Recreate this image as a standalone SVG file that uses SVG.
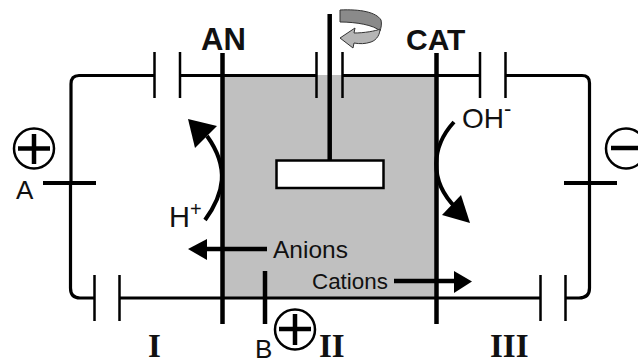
<svg xmlns="http://www.w3.org/2000/svg" width="638" height="364" viewBox="0 0 638 364">
<style>
.w{fill:none;stroke:#000;stroke-width:3.200}
.p{fill:none;stroke:#000;stroke-width:2.500}
.e{fill:none;stroke:#000;stroke-width:4.500}
.t{fill:none;stroke:#000;stroke-width:4}
.c{fill:none;stroke:#000;stroke-width:2.500}
.a{fill:#000;stroke:none}
.s{font-family:"Liberation Sans",Arial,sans-serif;fill:#111}
.b{font-family:"Liberation Sans",Arial,sans-serif;font-weight:bold;fill:#111}
.r{font-family:"Liberation Serif","Times New Roman",serif;font-weight:bold;font-size:33px;fill:#111}
</style>
<rect id="tank" x="224" y="75" width="212" height="222" fill="#c0c0c0"/>
<g id="connectors">
<path class="w" d="M154 75.500H79Q71 75.500 71 84V183"/>
<path class="w" d="M180 75.500H316"/>
<path class="w" d="M342 75.500H480"/>
<path class="w" d="M505 75.500H582Q589.500 75.500 589.500 83V183"/>
<path class="w" d="M70.500 183V288Q70.500 298 80 298H94"/>
<path class="w" d="M119 298H540"/>
<path class="w" d="M565 298H579Q589.500 298 589.500 288V183"/>
</g>
<g id="capacitors">
<path class="p" d="M154.500 52V98M180 52V98M316.500 52V98M342.500 52V98M480 52V98M505.500 52V98M94.500 275V321M119.500 275V321M540.500 275V321M565.500 275V321"/>
</g>
<g id="electrode-an"><path class="e" d="M222.500 53V324"/><text class="b" x="201" y="50" font-size="31">AN</text></g>
<g id="electrode-cat"><path class="e" d="M436.500 53V324"/><text class="b" x="406" y="50" font-size="30">CAT</text></g>
<g id="electrode-b"><path class="e" d="M265 271V324"/></g>
<g id="stirrer">
<path class="e" d="M329.700 14V160"/>
<rect x="276.500" y="160.500" width="107" height="27.500" fill="#fff" stroke="#000" stroke-width="2.500"/>
<path d="M340 10C360 9 376 12 381 20C382 24 381 28 380 31C374 25 356 22 340 22Z" fill="#8a8a8a" stroke="#333" stroke-width="1"/>
<path d="M340 38L355 28L354 33C364 33 376 31 380 29C380 34 377 40 371 42C365 44 360 44 354 43L353 48Z" fill="#b5b5b5" stroke="#333" stroke-width="1"/>
</g>
<g id="terminal-a">
<path class="t" d="M43 183H96"/>
<circle class="c" cx="34" cy="148.500" r="20"/>
<path class="e" d="M34 134V164M18 148.500H50"/>
<text class="s" x="16" y="199" font-size="26">A</text>
</g>
<g id="terminal-c">
<path class="t" d="M564 183H617"/>
<circle class="c" cx="626" cy="148.500" r="20"/>
<path class="e" d="M611 148H638"/>
</g>
<g id="terminal-b">
<circle class="c" cx="295" cy="329.500" r="20"/>
<path class="e" d="M295 314V345M279 329H311"/>
<text class="s" x="255" y="358" font-size="26">B</text>
</g>
<g id="h-arrow">
<path class="t" d="M205 220C224 194 230 168 207 136"/>
<path class="a" d="M188 119L217 126L195 148Z"/>
<text class="s" x="169" y="227" font-size="29">H<tspan font-size="20" dy="-11">+</tspan></text>
</g>
<g id="oh-arrow">
<path class="t" d="M454 122C432 146 428 180 456 208"/>
<path class="a" d="M461 195L470 223L442 215Z"/>
<text class="s" x="462" y="127.500" font-size="28">OH<tspan font-size="22" dy="-12">-</tspan></text>
</g>
<g id="anions">
<path class="e" d="M204 249H267"/>
<path class="a" d="M188 249L207 239V260Z"/>
<text class="s" x="273" y="258" font-size="24.500">Anions</text>
</g>
<g id="cations">
<path class="e" d="M394 281H456"/>
<path class="a" d="M472 281.500L454 271V293Z"/>
<text class="s" x="312" y="289" font-size="22.400">Cations</text>
</g>
<g id="regions">
<text class="r" x="148" y="356.500">I</text>
<text class="r" x="319" y="356.500">II</text>
<text class="r" x="490" y="356.500">III</text>
</g>
</svg>
